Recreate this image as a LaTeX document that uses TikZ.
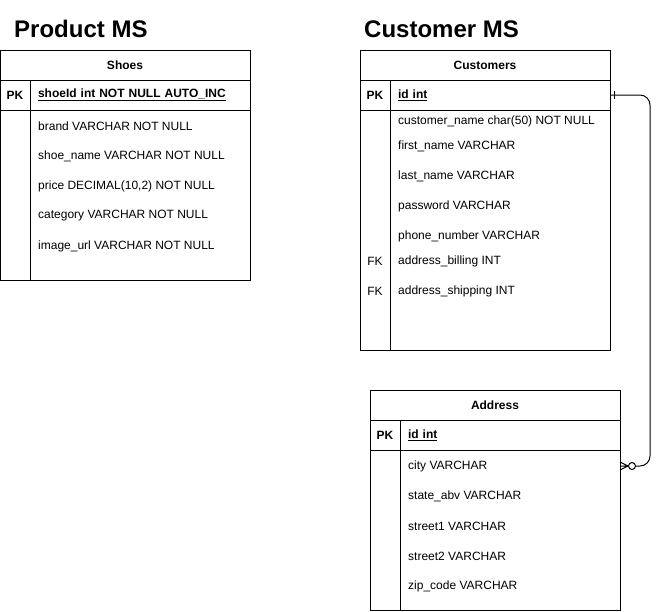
\documentclass[tikz,border=0pt]{standalone}
\usepackage{fontspec}
\setmainfont{Liberation Sans}
\usetikzlibrary{
	positioning
}

\tikzset{
	tbl/.style={draw,line width=1pt,inner sep=0pt,outer sep=0pt},
	hdr/.style={tbl,minimum height=30pt,font=\fontsize{12}{14}\selectfont\bfseries},
	key/.style={tbl,minimum width=30pt,minimum height=30pt,font=\fontsize{12}{14}\selectfont\bfseries},
	pkey/.style={tbl,minimum height=30pt,inner xsep=8pt,text width=204pt,align=left,font=\fontsize{12}{14}\selectfont\bfseries},
	field/.style={anchor=west,inner sep=0pt,yshift=-1pt,font=\fontsize{12}{14}\selectfont},
	fk/.style={inner sep=0pt,yshift=-1pt,font=\fontsize{12}{14}\selectfont},
	title/.style={anchor=base west,inner sep=0pt,font=\fontsize{24}{29}\selectfont\bfseries},
	rel/.style={draw,line width=1pt}
}

\begin{document}
\begin{tikzpicture}[x=1pt,y=-1pt]
	\useasboundingbox (0,0) rectangle (660,611);

	\node[title] (pms) at (14,37) {Product MS};
	\node[title] (cms) at (364,37) {Customer MS};

	% Shoes
	\node[hdr,minimum width=250pt]                 (shoes) at (125,65) {Shoes};
	\node[key,below right=0pt and 0pt of shoes.south west] (spk) {PK};
	\node[pkey,right=0pt of spk]                   (sid) {\underline{shoeId int NOT NULL AUTO\_INC}};
	\node[key,minimum height=170pt,below=0pt of spk] (skey) {};
	\node[tbl,minimum width=220pt,minimum height=170pt,right=0pt of skey] (sbody) {};
	\foreach \t [count=\i] in {brand VARCHAR NOT NULL, shoe\_name VARCHAR NOT NULL,
		{price DECIMAL(10,2) NOT NULL}, category VARCHAR NOT NULL, image\_url VARCHAR NOT NULL}
		\node[field] (s\i) at (38,95+30*\i) {\t};

	% Customers
	\node[hdr,minimum width=250pt]                 (cust) at (485,65) {Customers};
	\node[key,below right=0pt and 0pt of cust.south west] (cpk) {PK};
	\node[pkey,right=0pt of cpk]                   (cid) {\underline{id int}};
	\node[key,minimum height=240pt,below=0pt of cpk] (ckey) {};
	\node[tbl,minimum width=220pt,minimum height=240pt,right=0pt of ckey] (cbody) {};
	\foreach \t/\y [count=\i] in {customer\_name char(50) NOT NULL/120, first\_name VARCHAR/145,
		last\_name VARCHAR/175, password VARCHAR/205, phone\_number VARCHAR/235,
		address\_billing INT/260, address\_shipping INT/290}
		\node[field] (c\i) at (398,\y) {\t};
	\node[fk] (cfk1) at (375,260) {FK};
	\node[fk] (cfk2) at (375,290) {FK};

	% Address
	\node[hdr,minimum width=250pt]                 (addr) at (495,405) {Address};
	\node[key,below right=0pt and 0pt of addr.south west] (apk) {PK};
	\node[pkey,right=0pt of apk]                   (aid) {\underline{id int}};
	\node[key,minimum height=160pt,below=0pt of apk] (akey) {};
	\node[tbl,minimum width=220pt,minimum height=160pt,right=0pt of akey] (abody) {};
	\foreach \t [count=\i] in {city VARCHAR, state\_abv VARCHAR, street1 VARCHAR,
		street2 VARCHAR, zip\_code VARCHAR}
		\node[field] (a\i) at (408,435+30*\i) {\t};

	% relation: one customer, zero or many addresses
	\coordinate (bend) at (650,95);
	\coordinate (aend) at (a1 -| abody.east);
	\draw[rel,rounded corners=10pt] (cid.east) -- (bend) |- ([xshift=15.5pt]aend);
	\draw[rel] ([xshift=4pt,yshift=4pt]cid.east) -- ([xshift=4pt,yshift=-4pt]cid.east);
	\draw[rel] ([yshift=4pt]aend) -- ([xshift=8pt]aend) -- ([yshift=-4pt]aend)
		(aend) -- ([xshift=8pt]aend);
	\draw[rel] ([xshift=12pt]aend) circle (3.5pt);
\end{tikzpicture}
\end{document}
